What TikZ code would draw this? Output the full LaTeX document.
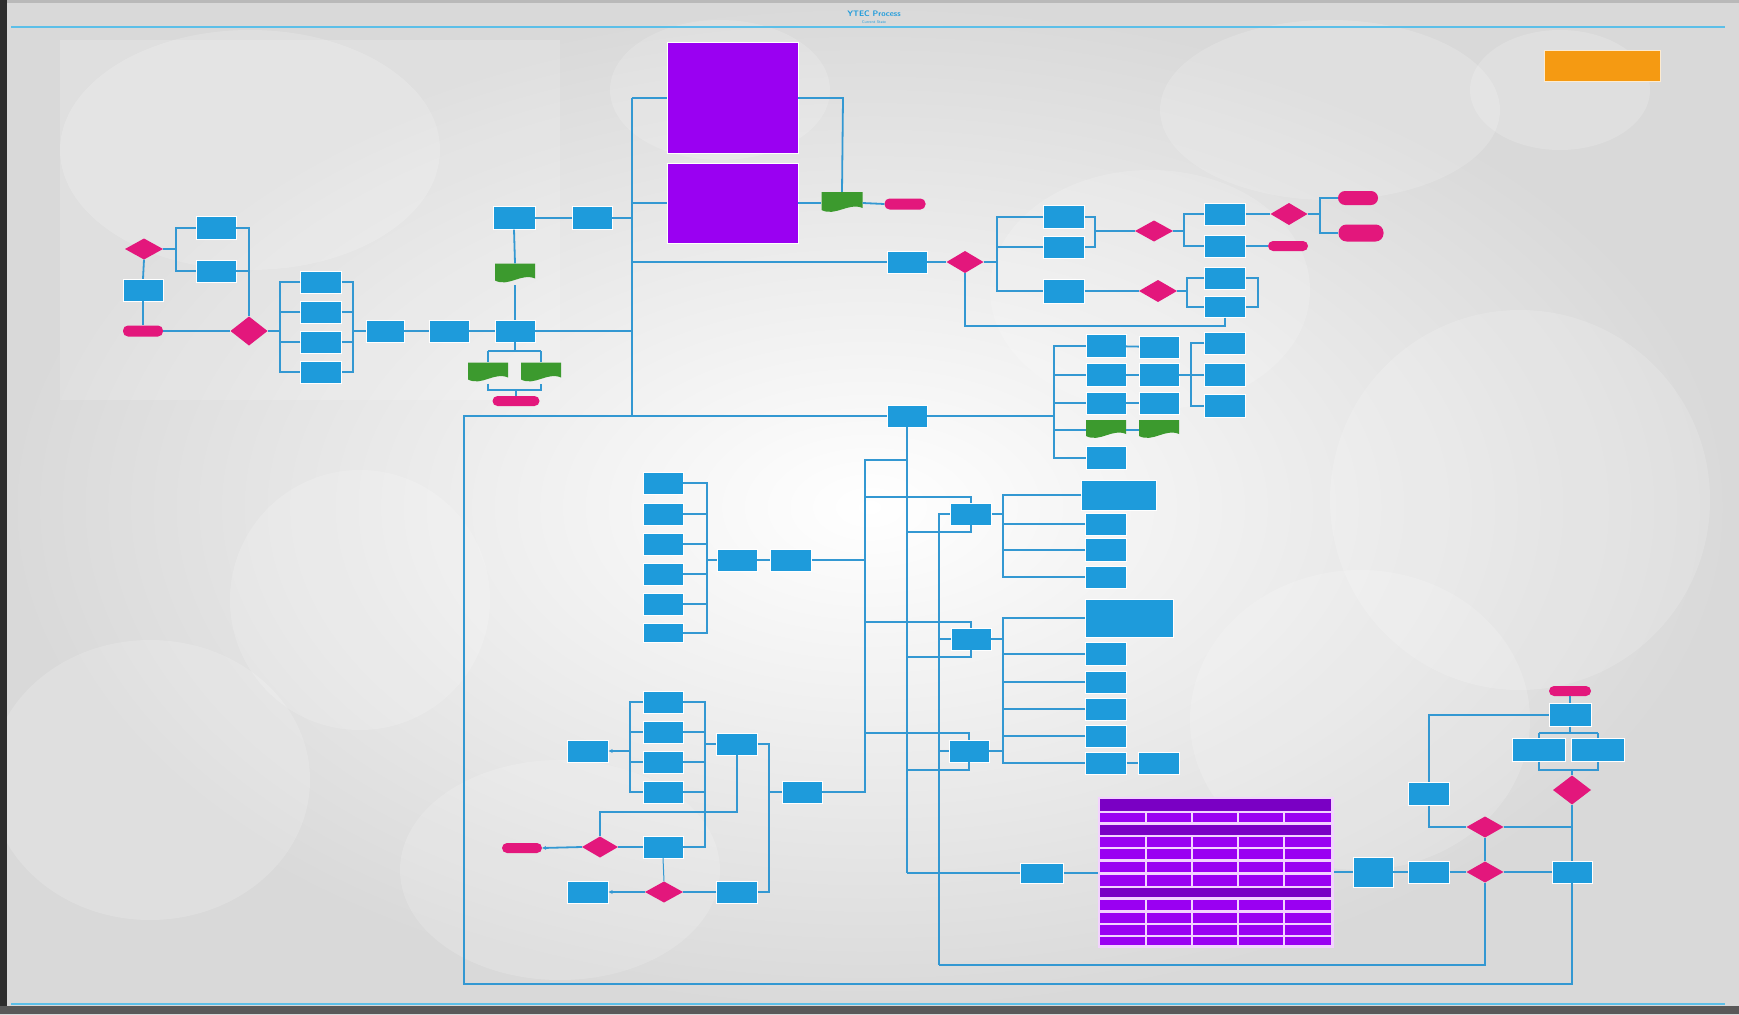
\documentclass[tikz,border=0pt]{standalone}
\usetikzlibrary{calc,arrows.meta}
\definecolor{bx}{HTML}{1E9BDB}
\definecolor{ln}{HTML}{3398D2}
\definecolor{pk}{HTML}{E3177C}
\definecolor{gr}{HTML}{3C9A2E}
\definecolor{pu}{HTML}{9A00F2}
\definecolor{pud}{HTML}{7A00C4}
\definecolor{og}{HTML}{F59A12}
\definecolor{tl}{HTML}{5CBFE8}
\definecolor{pkw}{HTML}{F3D2FF}
\begin{document}
\begin{tikzpicture}[x=1pt,y=-1pt,
 box/.style={fill=bx, draw=white, line width=0.3pt, minimum width=40pt, minimum height=22pt, inner sep=0pt},
 term/.style={fill=pk, rounded corners=5pt, minimum width=40pt, minimum height=11pt, inner sep=0pt},
 dn/.style={inner sep=0pt, minimum width=38pt, minimum height=22pt,
   path picture={\fill[pk] (path picture bounding box.north) -- (path picture bounding box.east) -- (path picture bounding box.south) -- (path picture bounding box.west) -- cycle;}},
 gd/.style={inner sep=0pt, minimum width=40pt, minimum height=21pt,
   path picture={\fill[gr] (path picture bounding box.north west) -- (path picture bounding box.north east) -- ($(path picture bounding box.south east)+(0,-6)$) .. controls ($(path picture bounding box.south east)+(-14,-12)$) and ($(path picture bounding box.south west)+(14,3)$) .. ($(path picture bounding box.south west)+(0,-4)$) -- cycle;}},
 pbox/.style={fill=pu, draw=white, line width=0.6pt, inner sep=0pt},
 con/.style={draw=ln, line width=1.8pt},
 arr/.style={con, -{Stealth[length=4pt,width=4pt]}}
]
\useasboundingbox (0,0) rectangle (1739,1014);
% background
\shade[inner color=white, outer color=gray!30] (0,0) rectangle (1739,1014);
\begin{scope}[white, opacity=0.16]
\fill (250,150) ellipse (190 and 120);
\fill (720,90) ellipse (110 and 70);
\fill (1330,110) ellipse (170 and 90);
\fill (1560,90) ellipse (90 and 60);
\fill (1150,290) ellipse (160 and 120);
\fill (1520,500) ellipse (190 and 190);
\fill (150,780) ellipse (160 and 140);
\fill (360,600) ellipse (130 and 130);
\fill (1360,720) ellipse (170 and 150);
\fill (560,870) ellipse (160 and 110);
\fill (60,40) rectangle (560,400);
\end{scope}
\fill[gray!55] (0,0) rectangle (1739,3);
\fill[gray!35!black] (0,0) rectangle (7,1014);
\fill[gray!70!black] (0,1006) rectangle (1739,1014);
% title and rules
\node[text=bx, font=\sffamily\bfseries\fontsize{8}{9}\selectfont] (title) at (874,14) {YTEC Process};
\node[text=bx, font=\sffamily\fontsize{4}{5}\selectfont] (sub) at (874,22) {Current State};
\draw[tl, line width=1.4pt] (11,27) -- (1725,27);
\draw[tl, line width=1.4pt] (11,1004) -- (1725,1004);
% legend
\node[fill=og, draw=white!80!og, line width=0.5pt, minimum width=116pt, minimum height=31pt, inner sep=0pt] (legend) at (1602,66) {};

% ---------- left cluster
\node[dn, minimum width=38pt, minimum height=21pt] (D1) at (144,249) {};
\node[box] (B1) at (143,290) {};
\node[term] (T1) at (143,331) {};
\node[box, minimum height=23pt] (B2) at (216,228) {};
\node[box] (B3) at (216,271) {};
\node[dn, minimum width=37pt, minimum height=29pt] (D2) at (249,331) {};
\node[box, minimum width=41pt] (A1) at (321,282) {};
\node[box, minimum width=41pt] (A2) at (321,312) {};
\node[box, minimum width=41pt] (A3) at (321,342) {};
\node[box, minimum width=41pt] (A4) at (321,372) {};
\node[box, minimum width=38pt] (B4) at (385,331) {};
\node[box] (B5) at (449,331) {};
\node[box] (B6) at (515,331) {};
\node[gd] (G1) at (515,274) {};
\node[box, minimum width=42pt, minimum height=23pt] (B7) at (514,218) {};
\node[box, minimum height=23pt] (B8) at (592,218) {};
\node[gd] (G2) at (488,373) {};
\node[gd] (G3) at (541,373) {};
\node[term, minimum width=47pt, minimum height=10pt] (T2) at (516,401) {};

\draw[con] (D1.south) -- (B1.north);
\draw[con] (B1.south) -- (T1.north);
\draw[con] (D1.east) -- (176,249);
\draw[con] (B2.west) -- (176,228) -- (176,271) -- (B3.west);
\draw[con] (B2.east) -| (D2.north);
\draw[con] (B3.east) -- (249,271);
\draw[con] (T1.east) -- (D2.west);
\draw[con] (D2.east) -- (280,331);
\draw[con] (A1.west) -- (280,282) -- (280,372) -- (A4.west);
\draw[con] (A2.west) -- (280,312);
\draw[con] (A3.west) -- (280,342);
\draw[con] (A1.east) -- (353,282) -- (353,372) -- (A4.east);
\draw[con] (A2.east) -- (353,312);
\draw[con] (A3.east) -- (353,342);
\draw[con] (353,331) -- (B4.west);
\draw[con] (B4) -- (B5);
\draw[con] (B5) -- (B6);
\draw[con] (B6.north) -- (G1.south);
\draw[con] (G1.north) -- (B7.south);
\draw[con] (B7) -- (B8);
\draw[con] (B6.south) -- (515,351);
\draw[con] (488,351) -- (541,351);
\draw[con] (488,351) -- (G2.north);
\draw[con] (541,351) -- (G3.north);
\draw[con] (G2.south) -- (488,390) -- (541,390) -- (G3.south);
\draw[con] (516,390) -- (T2.north);

% ---------- trunk and purple
\node[pbox, minimum width=131pt, minimum height=111pt] (P1) at (732.5,97.5) {};
\node[pbox, minimum width=131pt, minimum height=80pt] (P2) at (732.5,203) {};
\node[gd, minimum width=41pt, minimum height=22pt] (G4) at (842,203) {};
\node[term, minimum width=41pt] (T3) at (905,204) {};
\coordinate (tr1) at (632,98);
\coordinate (tr2) at (632,416);
\draw[con] (tr1) -- (tr2);
\draw[con] (tr1) -- (667,98);
\draw[con] (632,203) -- (P2.west);
\draw[con] (B8.east) -- (632,218);
\draw[con] (B6.east) -- (632,331);
\draw[con] (798,98) -- (843,98) -- (G4.north);
\draw[con] (P2.east) -- (G4.west);
\draw[con] (G4.east) -- (T3.west);

% ---------- upper right cluster
\node[box] (C1) at (907,262) {};
\node[dn, minimum width=37pt] (C2) at (965,262) {};
\node[box, minimum width=41pt, minimum height=23pt] (C3) at (1064,217) {};
\node[box, minimum width=41pt] (C4) at (1064,247) {};
\node[box, minimum width=41pt, minimum height=24pt] (C5) at (1064,291) {};
\node[dn, minimum height=21pt] (C6) at (1154,231) {};
\node[dn] (C7) at (1158,291) {};
\node[box, minimum width=41pt] (C8) at (1225,214) {};
\node[box, minimum width=41pt] (C9) at (1225,246) {};
\node[dn, minimum width=37pt] (C10) at (1289,214) {};
\node[term, minimum height=10pt] (T4) at (1288,246) {};
\node[term, minimum height=14pt, rounded corners=7pt] (T5) at (1358,198) {};
\node[term, minimum width=45pt, minimum height=17pt, rounded corners=8pt] (T6) at (1361,233) {};
\node[box, minimum width=41pt] (C11) at (1225,278) {};
\node[box, minimum width=41pt, minimum height=21pt] (C12) at (1225,307) {};

\draw[con] (632,262) -- (C1.west);
\draw[con] (C1.east) -- (C2.west);
\draw[con] (C2.east) -- (997,262);
\draw[con] (C3.west) -- (997,217) -- (997,291) -- (C5.west);
\draw[con] (C4.west) -- (997,247);
\draw[con] (C3.east) -- (1095,217) -- (1095,247) -- (C4.east);
\draw[con] (1095,231) -- (C6.west);
\draw[con] (C5.east) -- (C7.west);
\draw[con] (C6.east) -- (1184,231);
\draw[con] (C8.west) -- (1184,214) -- (1184,246) -- (C9.west);
\draw[con] (C8.east) -- (C10.west);
\draw[con] (C9.east) -- (T4.west);
\draw[con] (C10.east) -- (1320,214);
\draw[con] (T5.west) -- (1320,198) -- (1320,233) -- (T6.west);
\draw[con] (C7.east) -- (1187,291);
\draw[con] (C11.west) -- (1187,278) -- (1187,307) -- (C12.west);
\draw[con] (C11.east) -- (1258,278) -- (1258,307) -- (C12.east);
\draw[con] (C12.south) -- (1225,326) -- (965,326) -- (C2.south);

% ---------- hub
\node[box] (E0) at (907,416) {};
\node[box, minimum height=23pt] (E1) at (1106,346) {};
\node[box, minimum height=23pt] (E2) at (1106,375) {};
\node[box] (E3) at (1106,403) {};
\node[gd, minimum height=20pt] (EG1) at (1106,430) {};
\node[box, minimum height=23pt] (E5) at (1106,458) {};
\node[box] (E6) at (1159,347) {};
\node[box, minimum height=23pt] (E7) at (1159,375) {};
\node[box] (E8) at (1159,403) {};
\node[gd, minimum height=20pt] (EG2) at (1159,430) {};
\node[box, minimum width=41pt] (E9) at (1225,343) {};
\node[box, minimum width=41pt, minimum height=23pt] (E10) at (1225,375) {};
\node[box, minimum width=41pt, minimum height=23pt] (E11) at (1225,406) {};

\draw[con] (tr2) -- (E0.west);
\draw[con] (E0.east) -- (1054,416);
\draw[con] (E1.west) -- (1054,346) -- (1054,458) -- (E5.west);
\draw[con] (E2.west) -- (1054,375);
\draw[con] (E3.west) -- (1054,403);
\draw[con] (EG1.west) -- (1054,430);
\draw[con] (E1) -- (E6);
\draw[con] (E2) -- (E7);
\draw[con] (E3) -- (E8);
\draw[con] (EG1) -- (EG2);
\draw[con] (E7.east) -- (1191,375);
\draw[con] (E9.west) -- (1191,343) -- (1191,406) -- (E11.west);
\draw[con] (E10.west) -- (1191,375);

% ---------- middle column
\node[box] (H1) at (663,483) {};
\node[box] (H2) at (663,514) {};
\node[box] (H3) at (663,544) {};
\node[box] (H4) at (663,574) {};
\node[box] (H5) at (663,604) {};
\node[box, minimum height=19pt] (H6) at (663,633) {};
\node[box] (J1) at (737,560) {};
\node[box, minimum width=41pt] (J2) at (791,560) {};
\draw[con] (H1.east) -- (707,483) -- (707,633) -- (H6.east);
\draw[con] (H2.east) -- (707,514);
\draw[con] (H3.east) -- (707,544);
\draw[con] (H4.east) -- (707,574);
\draw[con] (H5.east) -- (707,604);
\draw[con] (707,560) -- (J1.west);
\draw[con] (J1) -- (J2);
\draw[con] (J2.east) -- (865,560);

% ---------- three branches
\node[box, minimum width=41pt] (F1) at (971,514) {};
\node[box] (F2) at (971,639) {};
\node[box] (F3) at (969,751) {};
\draw[con] (907,460) -- (865,460) -- (865,793);
\draw[con] (E0.south) -- (907,873);
\draw[con] (939,513) -- (939,965);
\draw[con] (865,497) -| (F1.north);
\draw[con] (907,532) -| (F1.south);
\draw[con] (939,514) -- (F1.west);
\draw[con] (865,622) -| (F2.north);
\draw[con] (907,657) -| (F2.south);
\draw[con] (939,639) -- (F2.west);
\draw[con] (865,733) -| (F3.north);
\draw[con] (907,770) -| (F3.south);
\draw[con] (939,751) -- (F3.west);

\node[box, minimum width=75pt, minimum height=30pt] (K1) at (1119,495) {};
\node[box, minimum width=41pt] (K2) at (1106,524) {};
\node[box, minimum width=41pt, minimum height=23pt] (K3) at (1106,550) {};
\node[box, minimum width=41pt] (K4) at (1106,577) {};
\draw[con] (F1.east) -- (1003,514);
\draw[con] (K1.west) -- (1003,495) -- (1003,577) -- (K4.west);
\draw[con] (K2.west) -- (1003,524);
\draw[con] (K3.west) -- (1003,550);

\node[box, minimum width=88pt, minimum height=38pt] (L1) at (1129,618) {};
\node[box, minimum width=41pt, minimum height=23pt] (L2) at (1106,654) {};
\node[box, minimum width=41pt] (L3) at (1106,682) {};
\node[box, minimum width=41pt] (L4) at (1106,709) {};
\node[box, minimum width=41pt] (L5) at (1106,736) {};
\node[box, minimum width=41pt] (L6) at (1106,763) {};
\node[box, minimum width=41pt] (L7) at (1159,763) {};
\draw[con] (F2.east) -- (1003,639);
\draw[con] (L1.west) -- (1003,618) -- (1003,763) -- (L6.west);
\draw[con] (L2.west) -- (1003,654);
\draw[con] (L3.west) -- (1003,682);
\draw[con] (L4.west) -- (1003,709);
\draw[con] (L5.west) -- (1003,736);
\draw[con] (L6) -- (L7);
\draw[con] (F3.east) -- (1003,751);

% ---------- bottom left cluster
\node[box] (M1) at (663,702) {};
\node[box] (M2) at (663,732) {};
\node[box] (M3) at (663,762) {};
\node[box] (M4) at (663,792) {};
\node[box, minimum width=41pt] (KK) at (588,751) {};
\node[box, minimum width=41pt] (LL) at (737,744) {};
\node[box] (MM) at (802,792) {};
\node[box] (NN) at (663,847) {};
\node[dn, minimum width=36pt, minimum height=21pt] (PP) at (600,847) {};
\node[term, minimum height=10pt] (QQ) at (522,848) {};
\node[box, minimum width=41pt] (RR) at (737,892) {};
\node[dn, minimum height=21pt] (SS) at (664,892) {};
\node[box, minimum width=41pt] (TT) at (588,892) {};
\draw[con] (M1.west) -- (630,702) -- (630,792) -- (M4.west);
\draw[con] (M2.west) -- (630,732);
\draw[con] (M3.west) -- (630,762);
\draw[arr] (630,751) -- (KK.east);
\draw[con] (M1.east) -- (705,702) -- (705,847) -- (NN.east);
\draw[con] (M2.east) -- (705,732);
\draw[con] (M3.east) -- (705,762);
\draw[con] (M4.east) -- (705,792);
\draw[con] (705,744) -- (LL.west);
\draw[con] (LL.east) -- (769,744) -- (769,892) -- (RR.east);
\draw[con] (769,792) -- (MM.west);
\draw[con] (MM.east) -- (865,792);
\draw[con] (PP.north) -- (600,812) -- (737,812) -- (LL.south);
\draw[con] (NN.west) -- (PP.east);
\draw[arr] (PP.west) -- (QQ.east);
\draw[con, line width=1pt] (NN.south) -- (SS.north);
\draw[con] (RR.west) -- (SS.east);
\draw[arr] (SS.west) -- (TT.east);

% ---------- table
\node[inner sep=0pt, minimum width=236pt, minimum height=151pt, fill=pkw] (tab) at (1216,872.5) {};
\fill[pud] (1100,799) rectangle (1331,811);
\fill[pud] (1100,825) rectangle (1331,835);
\fill[pud] (1100,888) rectangle (1331,897);
\foreach \ya/\yb in {813/822, 837/847, 849/859, 862/872, 875/886, 900/910, 913/923, 925/935, 937/945}{
  \foreach \xa/\xb in {1100/1145, 1147/1191, 1193/1237, 1239/1283, 1285/1331}{
    \fill[pu] (\xa,\ya) rectangle (\xb,\yb);
  }
}

% ---------- bottom right cluster
\node[box, minimum width=43pt, minimum height=20pt] (UU) at (1042,873) {};
\node[box, minimum width=40pt, minimum height=30pt] (VV) at (1373,872) {};
\node[box, minimum width=41pt] (WW) at (1429,872) {};
\node[dn, minimum width=37pt, minimum height=21pt] (Y1) at (1485,872) {};
\node[box] (Z1) at (1572,872) {};
\node[dn, minimum width=37pt, minimum height=21pt] (Y2) at (1485,827) {};
\node[box, minimum width=41pt, minimum height=23pt] (Z2) at (1429,794) {};
\node[term, minimum width=42pt, minimum height=10pt] (T7) at (1570,691) {};
\node[box, minimum width=42pt, minimum height=23pt] (Z3) at (1570,715) {};
\node[box, minimum width=53pt, minimum height=23pt] (Z4) at (1539,750) {};
\node[box, minimum width=53pt, minimum height=23pt] (Z5) at (1598,750) {};
\node[dn, minimum height=29pt] (Y3) at (1572,790) {};

\draw[con] (907,873) -- (UU.west);
\draw[con] (UU.east) -- (tab.west |- UU.east);
\draw[con] (tab.east |- VV.west) -- (VV.west);
\draw[con] (VV) -- (WW);
\draw[con] (WW) -- (Y1);
\draw[con] (Y1) -- (Z1);
\draw[con] (T7.south) -- (Z3.north);
\draw[con] (Z3.west) -- (1429,715) -- (Z2.north);
\draw[con] (Z2.south) -- (1429,827) -- (Y2.west);
\draw[con] (Y2.east) -- (1572,827);
\draw[con] (Y1.north) -- (Y2.south);
\draw[con] (Z3.south) -- (1570,733);
\draw[con] (1539,733) -- (1598,733);
\draw[con] (1539,733) -- (Z4.north);
\draw[con] (1598,733) -- (Z5.north);
\draw[con] (Z4.south) -- (1539,770) -- (1598,770) -- (Z5.south);
\draw[con] (1572,770) -- (Y3.north);
\draw[con] (Y3.south) -- (Z1.north);
\draw[con] (Y1.south) -- (1485,965) -- (939,965);
\draw[con] (Z1.south) -- (1572,984) -- (464,984) -- (464,416) -- (tr2);
\end{tikzpicture}
\end{document}
